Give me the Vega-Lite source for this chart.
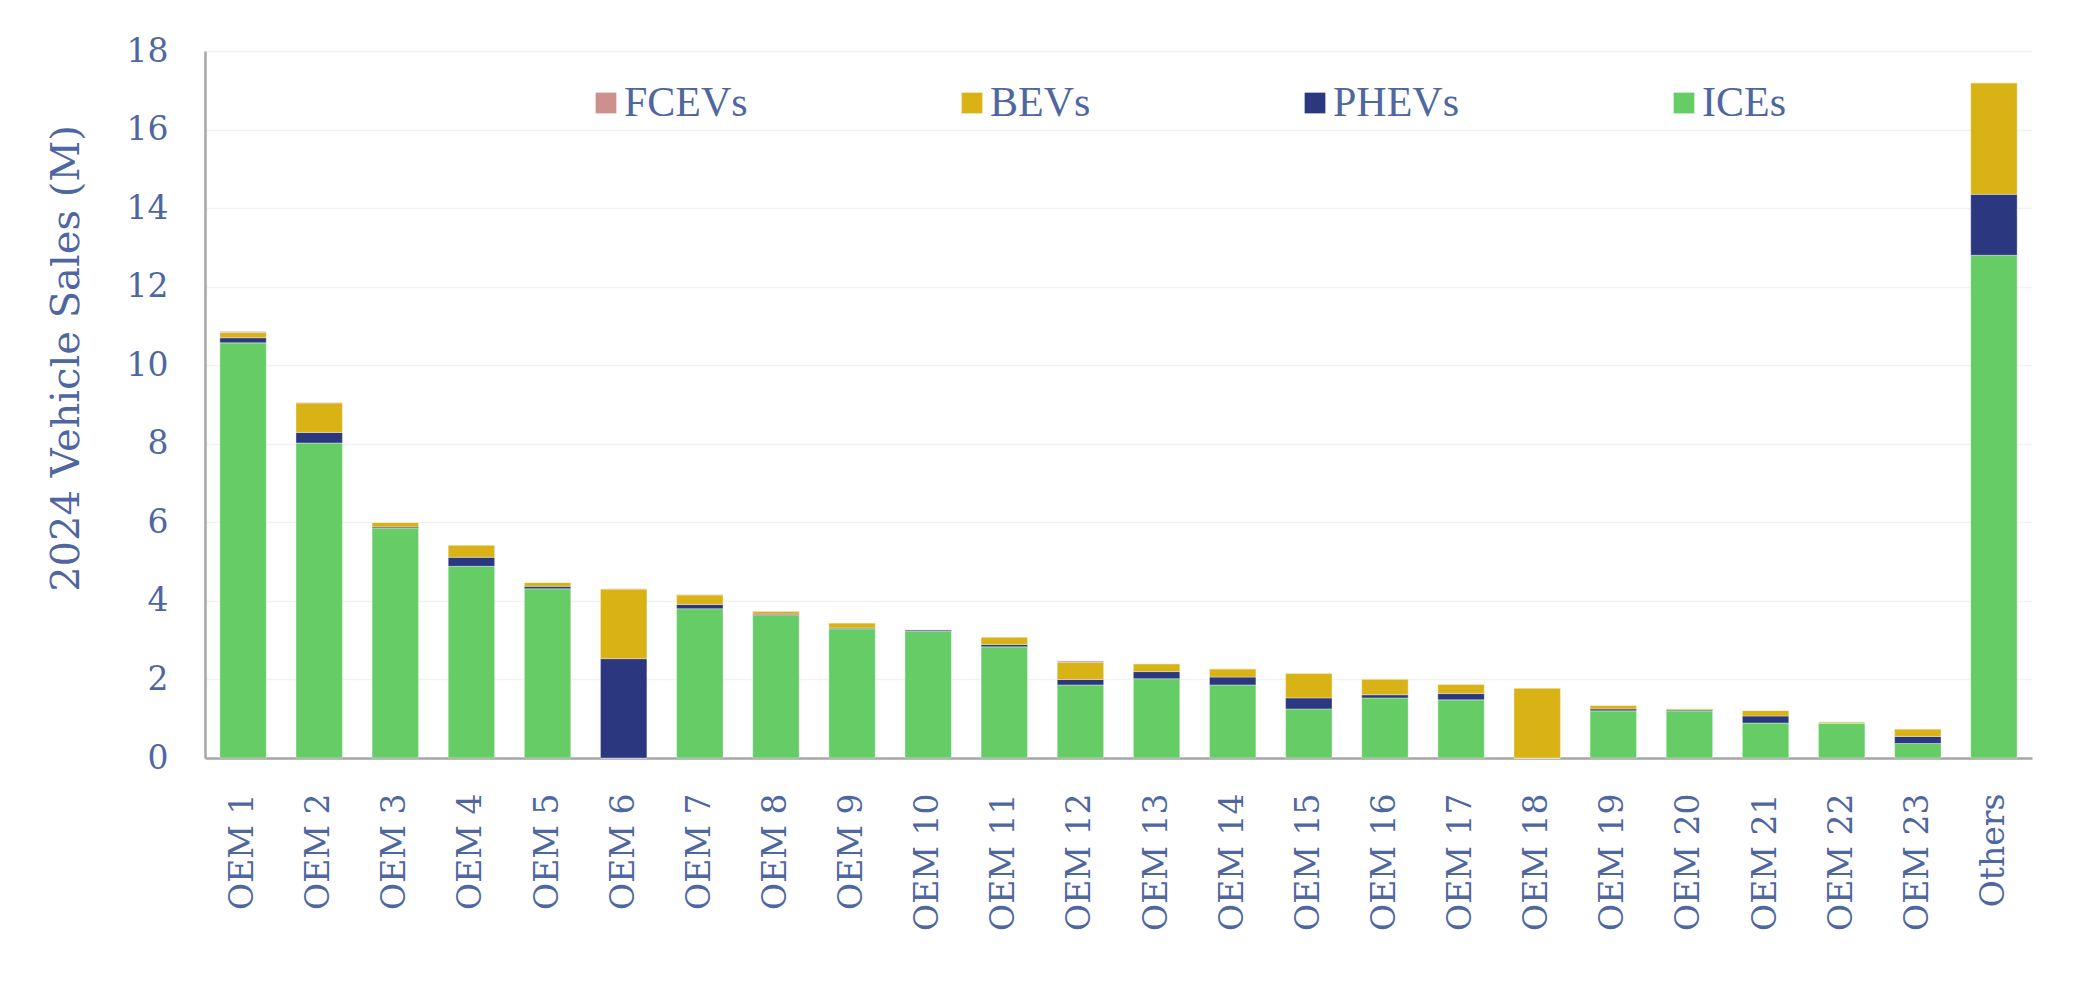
{
  "$schema": "https://vega.github.io/schema/vega-lite/v6.json",
  "autosize": {"type": "none"},
  "padding": {"left": 205, "top": 51, "right": 47, "bottom": 232},
  "width": 1827,
  "height": 707,
  "background": "white",
  "data": {
    "values": [
      {"oem": "OEM 1", "ICEs": 10.57, "PHEVs": 0.13, "BEVs": 0.13, "FCEVs": 0.03},
      {"oem": "OEM 2", "ICEs": 8.02, "PHEVs": 0.27, "BEVs": 0.75, "FCEVs": 0.01},
      {"oem": "OEM 3", "ICEs": 5.85, "PHEVs": 0.03, "BEVs": 0.12, "FCEVs": 0},
      {"oem": "OEM 4", "ICEs": 4.88, "PHEVs": 0.23, "BEVs": 0.31, "FCEVs": 0},
      {"oem": "OEM 5", "ICEs": 4.31, "PHEVs": 0.06, "BEVs": 0.1, "FCEVs": 0},
      {"oem": "OEM 6", "ICEs": 0, "PHEVs": 2.53, "BEVs": 1.77, "FCEVs": 0.01},
      {"oem": "OEM 7", "ICEs": 3.8, "PHEVs": 0.11, "BEVs": 0.24, "FCEVs": 0.01},
      {"oem": "OEM 8", "ICEs": 3.63, "PHEVs": 0.03, "BEVs": 0.07, "FCEVs": 0.01},
      {"oem": "OEM 9", "ICEs": 3.29, "PHEVs": 0.02, "BEVs": 0.13, "FCEVs": 0},
      {"oem": "OEM 10", "ICEs": 3.23, "PHEVs": 0.03, "BEVs": 0.01, "FCEVs": 0},
      {"oem": "OEM 11", "ICEs": 2.83, "PHEVs": 0.06, "BEVs": 0.19, "FCEVs": 0},
      {"oem": "OEM 12", "ICEs": 1.86, "PHEVs": 0.14, "BEVs": 0.44, "FCEVs": 0.03},
      {"oem": "OEM 13", "ICEs": 2.02, "PHEVs": 0.18, "BEVs": 0.2, "FCEVs": 0},
      {"oem": "OEM 14", "ICEs": 1.86, "PHEVs": 0.2, "BEVs": 0.21, "FCEVs": 0},
      {"oem": "OEM 15", "ICEs": 1.25, "PHEVs": 0.28, "BEVs": 0.63, "FCEVs": 0},
      {"oem": "OEM 16", "ICEs": 1.53, "PHEVs": 0.08, "BEVs": 0.4, "FCEVs": 0},
      {"oem": "OEM 17", "ICEs": 1.48, "PHEVs": 0.16, "BEVs": 0.24, "FCEVs": 0},
      {"oem": "OEM 18", "ICEs": 0, "PHEVs": 0, "BEVs": 1.78, "FCEVs": 0},
      {"oem": "OEM 19", "ICEs": 1.2, "PHEVs": 0.05, "BEVs": 0.09, "FCEVs": 0},
      {"oem": "OEM 20", "ICEs": 1.2, "PHEVs": 0.03, "BEVs": 0.03, "FCEVs": 0},
      {"oem": "OEM 21", "ICEs": 0.89, "PHEVs": 0.18, "BEVs": 0.14, "FCEVs": 0},
      {"oem": "OEM 22", "ICEs": 0.89, "PHEVs": 0, "BEVs": 0.03, "FCEVs": 0},
      {"oem": "OEM 23", "ICEs": 0.37, "PHEVs": 0.18, "BEVs": 0.19, "FCEVs": 0},
      {"oem": "Others", "ICEs": 12.8, "PHEVs": 1.55, "BEVs": 2.84, "FCEVs": 0}
    ]
  },
  "transform": [
    {"fold": ["ICEs", "PHEVs", "BEVs", "FCEVs"], "as": ["powertrain", "sales"]},
    {"calculate": "indexof(['ICEs', 'PHEVs', 'BEVs', 'FCEVs'], datum.powertrain)", "as": "stackOrder"}
  ],
  "mark": {"type": "bar", "stroke": "white", "strokeWidth": 0.6, "strokeOpacity": 0.6},
  "encoding": {
    "x": {
      "field": "oem",
      "type": "nominal",
      "sort": null,
      "scale": {"paddingInner": 0.39, "paddingOuter": 0.195},
      "axis": {
        "title": null,
        "labelAngle": -90,
        "labelAlign": "right",
        "labelBaseline": "middle",
        "labelFont": "DejaVu Serif",
        "labelFontSize": 33,
        "labelColor": "#4F67A1",
        "labelPadding": 35,
        "ticks": false,
        "tickSize": 0,
        "domainColor": "#A6A6A6",
        "domainWidth": 2.5,
        "grid": false
      }
    },
    "y": {
      "field": "sales",
      "type": "quantitative",
      "stack": "zero",
      "scale": {"domain": [0, 18], "nice": false},
      "axis": {
        "title": "2024 Vehicle Sales (M)",
        "titleFont": "DejaVu Serif",
        "titleFontSize": 40,
        "titleFontWeight": "normal",
        "titleColor": "#4F67A1",
        "titleAngle": -90,
        "titleAlign": "center",
        "titleBaseline": "alphabetic",
        "titleX": -127,
        "titleY": 307,
        "values": [0, 2, 4, 6, 8, 10, 12, 14, 16, 18],
        "labelFont": "DejaVu Serif",
        "labelFontSize": 33,
        "labelColor": "#4F67A1",
        "labelPadding": 37,
        "ticks": false,
        "tickSize": 0,
        "domainColor": "#A6A6A6",
        "domainWidth": 2.5,
        "grid": true,
        "gridColor": "#F2F2F2",
        "gridWidth": 1.5
      }
    },
    "order": {"field": "stackOrder", "type": "quantitative", "sort": "ascending"},
    "color": {
      "field": "powertrain",
      "type": "nominal",
      "scale": {
        "domain": ["ICEs", "PHEVs", "BEVs", "FCEVs"],
        "range": ["#66CC66", "#2B3880", "#D9B216", "#CC908F"]
      },
      "legend": {
        "title": null,
        "values": ["FCEVs", "BEVs", "PHEVs", "ICEs"],
        "orient": "none",
        "direction": "horizontal",
        "legendX": 380,
        "legendY": 31,
        "padding": 0,
        "symbolType": "square",
        "symbolSize": 430,
        "symbolStrokeWidth": 0,
        "symbolOpacity": 1,
        "labelFont": "Liberation Serif",
        "labelFontSize": 42,
        "labelColor": "#4F67A1",
        "labelOffset": -3,
        "labelLimit": 400,
        "columnPadding": 203
      }
    }
  },
  "config": {
    "view": {"stroke": null}
  }
}
